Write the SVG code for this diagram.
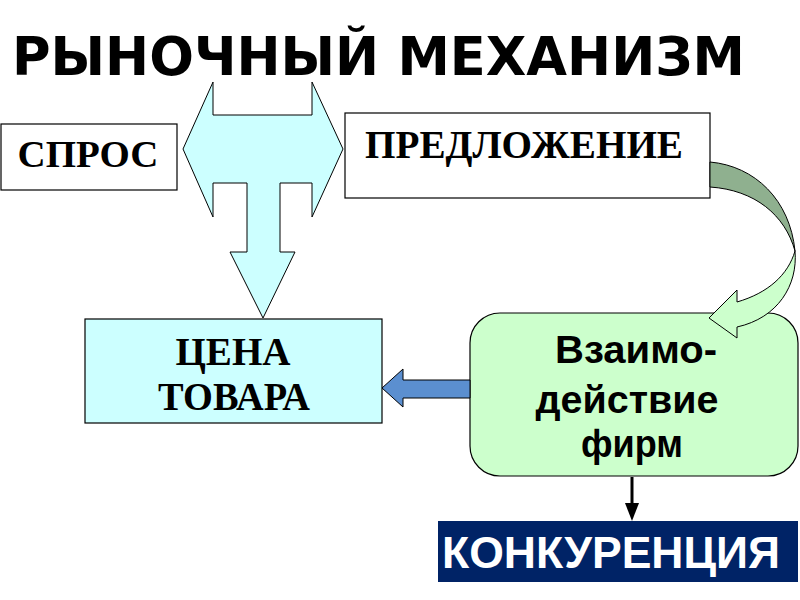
<svg xmlns="http://www.w3.org/2000/svg" width="800" height="600" viewBox="0 0 800 600">
<defs>
<style>
.box{stroke:#000;stroke-width:1.2}
.tms{font-family:"Liberation Serif","Times New Roman",serif;font-weight:bold;fill:#000}
.ars{font-family:"Liberation Sans",Arial,sans-serif;font-weight:bold}
.conn{stroke:#000;stroke-width:1}
</style>
</defs>
<rect width="800" height="600" fill="#fff"/>
<text x="12" y="75" font-family="'DejaVu Sans',sans-serif" font-weight="bold" font-size="54" textLength="733" lengthAdjust="spacingAndGlyphs">РЫНОЧНЫЙ МЕХАНИЗМ</text>

<g id="spros">
<rect class="box" x="1" y="124" width="176" height="66" fill="#fff"/>
<text class="tms" x="88" y="167" font-size="38" text-anchor="middle" textLength="141" lengthAdjust="spacingAndGlyphs">СПРОС</text>
</g>

<g id="predlozhenie">
<rect class="box" x="345" y="113" width="365" height="85" fill="#fff"/>
<text class="tms" x="524" y="158" font-size="40" text-anchor="middle" textLength="318" lengthAdjust="spacingAndGlyphs">ПРЕДЛОЖЕНИЕ</text>
</g>

<g id="cena">
<rect class="box" x="85" y="319" width="297" height="104" fill="#ccffff"/>
<text class="tms" x="233" y="365" font-size="40" text-anchor="middle" textLength="115" lengthAdjust="spacingAndGlyphs">ЦЕНА</text>
<text class="tms" x="234" y="410" font-size="40" text-anchor="middle" textLength="152" lengthAdjust="spacingAndGlyphs">ТОВАРА</text>
</g>

<g id="vzaimodeistvie">
<rect class="box" x="470" y="313" width="328" height="163" rx="30" ry="30" fill="#ccffcc" stroke-width="1"/>
<text class="ars" x="636" y="363" font-size="39" text-anchor="middle" fill="#000" textLength="162" lengthAdjust="spacingAndGlyphs">Взаимо-</text>
<text class="ars" x="627" y="413" font-size="39" text-anchor="middle" fill="#000" textLength="183" lengthAdjust="spacingAndGlyphs">действие</text>
<text class="ars" x="632" y="457" font-size="39" text-anchor="middle" fill="#000" textLength="102" lengthAdjust="spacingAndGlyphs">фирм</text>
</g>

<g id="konkurencia">
<rect x="438" y="521" width="360" height="61" fill="#002366"/>
<text class="ars" x="611" y="568" font-size="45" text-anchor="middle" fill="#fff" textLength="338" lengthAdjust="spacingAndGlyphs">КОНКУРЕНЦИЯ</text>
</g>

<g id="connectors">
<path id="big-arrow" class="conn" fill="#ccffff" d="M213,82 L213,115 L312,115 L312,82 L343,149 L312,217 L312,183 L280,183 L280,252 L295,252 L263,318 L230,252 L247,252 L247,183 L213,183 L213,217 L183,149 Z"/>
<path id="curve-dark" class="conn" fill="#8fb08f" d="M710,162 C755,166 790,200 795,251 C785,215 755,190 710,187 Z"/>
<path id="curve-light" class="conn" fill="#ccffcc" d="M795,251 C798,285 778,318 737,327 L737,338 L709,318 L737,290 L737,302 C768,293 788,275 795,251 Z"/>
<path id="blue-arrow" class="conn" fill="#5b8fd0" stroke="#1f3f7a" d="M470,380 L403,380 L403,369 L382,388 L403,407 L403,398 L470,398 Z"/>
<line x1="632" y1="477" x2="632" y2="510" stroke="#000" stroke-width="3"/>
<path d="M625,503 L639,503 L632,521 Z" fill="#000"/>
</g>
</svg>
